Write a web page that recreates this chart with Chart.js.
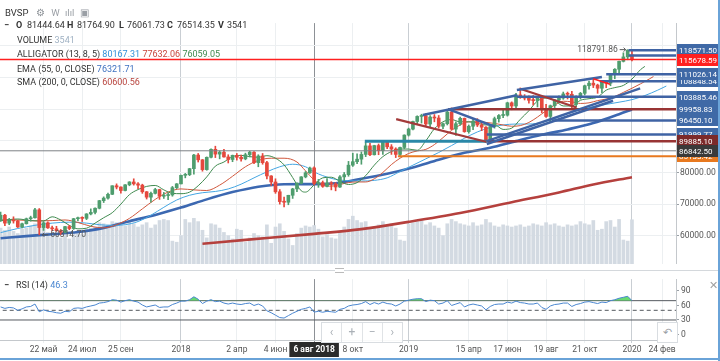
<!DOCTYPE html>
<html lang="ru"><head><meta charset="utf-8"><title>BVSP</title>
<script src="https://cdn.jsdelivr.net/npm/chart.js@4.4.1/dist/chart.umd.min.js"></script>
<style>
html,body{margin:0;padding:0;background:#fff;}
body{position:relative;width:720px;height:361px;overflow:hidden;font-family:Roboto,"Open Sans",sans-serif;color:#333;}
.cv{position:absolute;left:0;width:720px;}
#mainWrap{top:17px;height:253px;}
#rsiWrap{top:272px;height:86px;}
.t{position:absolute;white-space:nowrap;font-size:9px;line-height:11px;z-index:5;}
.t b{font-weight:700;}
#sep{position:absolute;left:0;top:270px;width:720px;height:1px;background:#d4d8dc;}
#handle{position:absolute;left:335px;top:268px;width:9px;height:3px;border-top:1px solid #bbb;border-bottom:1px solid #bbb;background:#fff;z-index:5;}
#frameR{position:absolute;left:718px;top:0;width:2px;height:361px;background:#6aa3d8;}
#frameB{position:absolute;left:0;top:358px;width:720px;height:2px;background:#6aa3d8;}
#nav{position:absolute;left:321px;top:322px;width:80px;height:19px;border:1px solid #d9dde1;background:rgba(255,255,255,.9);display:flex;z-index:6;}
#nav span{flex:1;text-align:center;font-size:12px;line-height:19px;color:#aab0b6;border-right:1px solid #e0e3e6;}
#nav span:last-child{border-right:none;}
#undo{position:absolute;left:657px;top:322px;width:19px;height:19px;border:1px solid #d9dde1;background:#fff;text-align:center;font-size:11px;line-height:19px;color:#9aa0a6;z-index:6;}
#closeX{position:absolute;left:709px;top:279px;font-size:11px;color:#a0a0a0;z-index:6;}
</style></head>
<body>
<div id="mainWrap" class="cv"><canvas id="mainChart"></canvas></div>
<div id="sep"></div><div id="handle"></div>
<div id="rsiWrap" class="cv"><canvas id="rsiChart"></canvas></div>
<div id="frameR"></div><div id="frameB"></div>

<div class="t" style="left:5px;top:7px;font-size:9.5px;">BVSP <span style="color:#8a8f95;margin-left:5px">⚙</span> <span style="color:#9a9fa5;margin-left:4px">W</span> <span style="color:#9a9fa5;margin-left:3px">ılıl</span> <span style="color:#9a9fa5;margin-left:3px">▣</span></div>
<div class="t" style="left:4px;top:20px;"><b>−</b></div>
<div class="t" style="left:16px;top:20px;"><b>O</b></div><div class="t" style="left:27px;top:20px;">81444.64</div>
<div class="t" style="left:67px;top:20px;"><b>H</b></div><div class="t" style="left:77px;top:20px;">81764.90</div>
<div class="t" style="left:119px;top:20px;"><b>L</b></div><div class="t" style="left:127px;top:20px;">76061.73</div>
<div class="t" style="left:167px;top:20px;"><b>C</b></div><div class="t" style="left:177px;top:20px;">76514.35</div>
<div class="t" style="left:218px;top:20px;"><b>V</b></div><div class="t" style="left:227px;top:20px;">3541</div>
<div class="t" style="left:17px;top:35px;">VOLUME <span style="color:#9fb1c3">3541</span></div>
<div class="t" style="left:17px;top:49px;">ALLIGATOR (13, 8, 5) <span style="color:#2f8fd8">80167.31</span> <span style="color:#c8463c">77632.06</span> <span style="color:#3f8a4f">76059.05</span></div>
<div class="t" style="left:17px;top:64px;">EMA (55, 0, CLOSE) <span style="color:#3f72c0">76321.71</span></div>
<div class="t" style="left:17px;top:77px;">SMA (200, 0, CLOSE) <span style="color:#b8443e">60600.56</span></div>
<div class="t" style="left:4px;top:280px;"><b>−</b></div>
<div class="t" style="left:16px;top:280px;">RSI (14) <span style="color:#4a86d0">46.3</span></div>
<div id="closeX">✕</div>
<div id="nav"><span>‹</span><span>+</span><span>−</span><span>›</span></div>
<div id="undo">↶</div>

<script>
// ---------------- DATA ----------------
// week index of first candle (weeks relative to the week of 1 Jan 2018)
const FIRST_WEEK = -42;
// weekly candles: [open, high, low, close, volume]
const ohlc2017 = [
[64700,67500,64500,66500,3300],[66500,66800,63200,64000,3100],[64000,65500,63500,65000,3400],[65000,66000,64000,64700,3000],
[64700,64900,62600,62800,2800],[62800,64000,62500,63800,3200],[63800,65600,63700,65400,3300],[65400,66200,64600,65700,3500],
[65700,68700,65600,68200,3700],[68200,68600,60314.70,62600,4300],[62600,64500,61700,64100,3600],[64100,64400,62300,62500,2900],
[62500,63100,61600,62200,2500],[62200,63000,61400,61600,2700],[61600,62000,60400,61100,2400],[61100,63000,60900,62900,2600],
[62900,63300,61900,62300,2300],[62300,65500,62000,65400,2900],[65400,65900,64700,65700,3000],[65700,66000,64500,65500,2700],
[65500,67000,65100,66900,3200],[66900,68500,66600,67400,3300],[67400,68800,66900,68700,3400],[68700,71200,68500,71100,3800],
[71100,72300,70500,71900,3700],[71900,73500,71600,73100,3600],[73100,75800,73000,75800,3900],[75800,76400,74800,75400,3800],
[75400,75500,73500,74300,3600],[74300,76200,74200,76100,3500],[76100,77100,75800,77000,3900],[77000,78000,76000,76400,3700],
[76400,76800,74900,76000,3400],[76000,76300,73400,73900,3600],[73900,74000,71600,72200,3800],[72200,73800,70600,73400,3300],
[73400,75000,73200,74600,3600],[74600,74700,71500,72500,4000],[72500,73700,71800,72700,4100],[72700,73500,71400,72900,4000],
[72900,75600,72500,75200,2100],[75200,76500,74900,76400,2000]
];
const ohlc2018 = [
[76400,79200,76400,79100,2600],[79100,79700,78300,79300,4100],[79300,81300,79000,81200,3800],[81200,85700,79500,85500,4200],
[85500,86000,83300,84000,3900],[84000,84100,80400,80900,3100],[80900,84900,80700,84800,2400],[84800,87500,84600,87300,3700],
[87300,88300,84700,85800,3600],[85800,86800,84300,86400,3300],[86400,87300,84800,84900,2900],[84900,85600,83000,84100,2600],
[84100,85500,83400,85400,2300],[85400,86000,83900,84800,3200],[84800,85500,83600,84300,3100],[84300,86100,84000,85600,2000],
[85600,86700,84900,86400,2400],[86400,86600,82800,83100,2800],[83100,85600,81800,85200,2600],[85200,86000,82600,83100,2500],
[83100,83500,78000,78900,3600],[78900,79000,75900,77000,1900],[77000,78000,73400,73900,3400],[73900,74600,70000,70800,3700],
[70800,72200,69100,70600,3000],[70600,72800,69800,72800,2300],[72800,75000,71800,74800,1700],[74800,76700,73900,76600,2800],
[76600,78700,76400,78600,3300],[78600,80300,78300,79900,3500],[79900,81700,79700,81400,3400],[81444.64,81764.90,76061.73,76514.35,3541],
[76500,77800,75300,76800,3200],[76800,77300,75300,75600,2500],[75600,78100,75400,76700,2700],[76700,77100,74500,76400,2400],
[76400,76800,74200,75400,2300],[75400,79000,75300,78600,3000],[78600,80000,77400,79300,3400],[79300,83500,78800,82300,4100],
[82300,86100,81900,83400,4400],[83400,85900,82800,84200,4000],[84200,86500,82600,85700,3800],[85700,89600,85000,88400,3900],
[88400,89200,85300,85600,3300],[85600,88600,85500,88500,3400],[88500,89000,85600,86900,3600],[86900,89700,85700,89500,3900],
[89500,90000,87500,88100,3500],[88100,88800,85700,87400,3700],[87400,87800,84700,85700,3300],[85700,88000,84900,87900,2200],
[87900,91900,87500,91800,2100]
];
const ohlc2019 = [
[91800,94000,91500,93700,3700],[93700,96200,93400,96100,3800],[96100,97900,95300,97700,3900],[97700,98400,95600,97900,4000],
[97900,98600,94600,95300,3600],[95300,98000,94400,97500,3800],[97500,98300,96000,97200,3500],[97200,98000,94000,94600,3300],
[94600,95600,93800,95400,2600],[95400,99300,95000,99100,3700],[99100,100400,93500,93700,4100],[93700,96000,91700,95400,3900],
[95400,97500,94900,97100,3700],[97100,97200,92700,92900,3600],[92900,95000,92400,94600,3500],[94600,96900,93500,96200,3800],
[96200,97000,94500,95000,3500],[95000,96000,93200,94300,3600],[94300,94500,89400,90000,4100],[90000,94600,89900,94500,3800],
[94500,97500,94000,97000,3500],[97000,98300,95900,98000,3400],[98000,99600,97300,98100,3600],[98100,102200,97800,102000,3500],
[102000,102300,99800,101000,3400],[101000,105000,100100,104500,3500],[104500,106700,103400,103900,3600],[103900,104600,102900,103500,3400],
[103500,104200,101900,102800,3500],[102800,104300,101300,102700,3700],[102700,104000,100700,104000,3600],[104000,104100,98900,99800,3500],
[99800,101500,97400,97700,3800],[97700,101300,95800,101100,3600],[101100,103000,100500,102900,3700],[102900,104200,102200,103500,3500],
[103500,105400,103100,104800,3400],[104800,105400,103200,104700,3600],[104700,105600,99900,101500,3500],[101500,104200,100700,103800,3600],
[103800,105300,103200,105000,3900],[105000,107600,104500,107400,3700],[107400,108900,106300,108200,3600],[108200,109700,106800,107600,4000],
[107600,107900,105000,106600,3100],[106600,109000,105200,108700,3200],[108700,109000,106800,108200,3900],[108200,111000,107400,111000,4000],
[111000,112800,109600,112600,3400],[112600,115200,111400,115100,4100],[115100,117800,114900,116500,2200],[116500,118791.86,115600,118570,2100],
[117100,118300,115200,115678.59,4070]
];
// RSI (14) per week
const rsi2017 = [57,54,56,55,50,53,57,58,63,47,51,48,47,45,44,48,47,54,55,54,57,59,61,65,66,68,72,71,67,70,72,69,67,61,57,59,61,56,57,57,62,65];
const rsi2018 = [69,69,72,78,73,64,69,72,68,69,65,63,65,63,62,64,65,60,63,59,49,45,40,35,34,39,44,48,52,54,57,46.3,48,46,48,47,46,52,54,59,61,62,64,68,62,66,63,67,64,63,59,63,69];
const rsi2019 = [71,73,74,74,68,71,70,63,65,70,60,63,66,57,61,63,61,59,51,58,62,63,63,67,65,69,66,65,63,63,65,56,52,59,62,63,65,65,58,62,64,67,68,66,64,67,66,70,72,75,77,79,70];
// indicator lines: [week, value]
const alligatorJaw = [[-42,61000],[-38,62300],[-34,63300],[-30,64000],[-26,64300],[-22,64000],[-19,63500],[-16,63300],[-13,63500],[-10,64500],[-7,66500],[-4,69000],[-1,71300],[2,72800],[5,73600],[8,74000],[11,74800],[14,76300],[17,78300],[20,80200],[23,81800],[26,82600],[29,81800],[31,80167.31],[33,79000],[36,77800],[39,77400],[42,77300],[45,77500],[48,78300],[51,80300],[54,82300],[57,84300],[60,86300],[63,88500],[66,90800],[69,92800],[72,94200],[75,95000],[78,95300],[81,95300],[84,95800],[87,97000],[90,98500],[93,99800],[96,100800],[99,101500],[102,102200],[105,103000],[108,104300],[111,106000],[113,107300]];
const alligatorTeeth = [[-42,65000],[-38,65000],[-34,64700],[-30,64800],[-27,65000],[-24,64200],[-21,63000],[-18,62500],[-15,63500],[-12,65500],[-9,68500],[-6,71500],[-3,73800],[0,74800],[3,74500],[6,74300],[9,76000],[12,78800],[15,81800],[18,83800],[21,84500],[24,84500],[27,83300],[29,80500],[31,77632.06],[33,76000],[35,75700],[37,76200],[39,76800],[41,77000],[43,77000],[45,78000],[47,80000],[49,82500],[51,84500],[53,86000],[55,86800],[57,87300],[59,88800],[61,91000],[63,93300],[65,95000],[67,96000],[69,96000],[71,95800],[73,95500],[75,95000],[77,94600],[79,94800],[81,95800],[83,97500],[85,99500],[87,101300],[89,102500],[91,102300],[93,101800],[95,102000],[97,102700],[99,103200],[101,104000],[103,105300],[105,106600],[107,108000],[109,109500],[110,110300]];
const alligatorLips = [[-42,64800],[-38,65300],[-35,64800],[-32,64700],[-30,66000],[-28,65000],[-26,63300],[-24,62200],[-22,62400],[-20,64000],[-18,65700],[-16,67300],[-14,70000],[-12,73000],[-10,74600],[-8,75600],[-6,75900],[-4,74500],[-2,73400],[0,73300],[2,73800],[4,75800],[6,78600],[8,82000],[10,83300],[12,85000],[14,85400],[16,85000],[18,84800],[20,85300],[22,84500],[24,82400],[26,78400],[28,74200],[29,73800],[31,76059.05],[33,78300],[35,78500],[37,77200],[39,76200],[41,76800],[43,79000],[45,82300],[47,85000],[49,86600],[51,87400],[53,87400],[55,87000],[57,90000],[59,93800],[61,96000],[63,96700],[65,96000],[67,96000],[69,95600],[71,95000],[73,95100],[75,93600],[77,94000],[79,96800],[81,99500],[83,102600],[85,103500],[87,102800],[89,101000],[91,101000],[93,102800],[95,103300],[97,103800],[99,106000],[101,106800],[103,107500],[105,109500],[107,112500],[108,113500]];
const ema55 = [[-42,59200],[-36,59900],[-30,60500],[-24,61200],[-18,62500],[-12,64600],[-6,66600],[0,68900],[6,71500],[12,73800],[18,75500],[24,76300],[31,76321.71],[36,76600],[42,78000],[48,79600],[54,81600],[60,84000],[66,86200],[72,87800],[78,89900],[84,91900],[90,93600],[96,95600],[102,98400],[105,99900]];
const sma200 = [[5,57500],[15,58700],[31,60600.56],[42,62100],[53,64400],[65,67200],[77,70600],[88,73700],[96,76200],[105,78500]];
// drawn objects: horizontal levels [price, fromWeek, toWeek(optional)]
const levelsBlue = [[91999.77,71.2],[96450.10,86.4],[103885.46,78.2],[108848.54,97.5],[111026.14,99],[116970,104.2],[118571.50,104.2]];
const levelsDarkRed = [[99958.83,62.2],[89885.10,71.2]];
const levelsTeal = [[89885.10,42.8,71.2]];
const levelsOrange = [[85133.42,50.5]];
const lastPrice = 115678.59;
const crossWeek = 31, crossPrice = 86842.50;
// trend lines [week1, price1, week2, price2]
const trendsBlue = [[56.3,98180,78.2,104360],[62.2,100000,73.1,94450],[78.2,106060,98,110120],[71.2,89910,106.9,106580],[71.2,89000,100.6,102640]];
const trendsDarkRed = [[50.1,96870,71.0,89690],[79.3,106270,92.1,100510]];
const trendsRed = [[96,109600,99.9,107880]];
// right-hand price tags [value, kind] (drawing order)
const priceTags = [[108848.54,'blue'],[91999.77,'blue'],[85133.42,'orange'],[118571.50,'blue'],[115678.59,'red'],[111026.14,'blue'],[103885.46,'blue'],[99958.83,'blue'],[96450.10,'blue'],[89885.10,'darkred'],[86842.50,'dark']];
const highMark = [104, 118791.86], lowMark = [-33, 60314.70];
// time axis
const tickWeeks = [-32,-23,-14,0,13,22,31,40,53,67,76,85,94,105,112];
const tickText = ['22 май','24 июл','25 сен','2018','2 апр','4 июн','6 авг 2018','8 окт','2019','15 апр','17 июн','19 авг','21 окт','2020','24 фев'];
const yearWeeks = [0,53,105];
const priceTicks = [60000,70000,80000,90000,100000,110000,120000];
const rsiTicks = [0,30,60,90];
const rsiLevels = [70,50,30];

// ---------------- VIEW ----------------
const X_MIN = -42.14, X_MAX = 115.25;
const Y_MIN = 51120, Y_MAX = 127180, VOL_MAX = 22200;
const FONT = 'Roboto, "Open Sans", sans-serif';
Chart.defaults.font.family = FONT;
Chart.defaults.font.size = 8.5;
Chart.defaults.color = '#555';

const candles = [...ohlc2017, ...ohlc2018, ...ohlc2019];
const rsiAll = [...rsi2017, ...rsi2018, ...rsi2019];
const weeks = candles.map((_, i) => FIRST_WEEK + i);
const UP = '#4f9d6e', DOWN = '#e5483d';
const cColor = candles.map(c => c[3] >= c[0] ? UP : DOWN);
const pts = arr => arr.map(([x, y]) => ({x, y}));
const line = (data, color, width, order, extra) => Object.assign({type:'line', data, borderColor:color, borderWidth:width, pointRadius:0, order, fill:false}, extra||{});
const curve = (arr, color, width, order) => line(pts(arr), color, width, order, {cubicInterpolationMode:'monotone'});
const segs = (list, color, width, order) => list.map(s => line([{x:s[0],y:s[1]},{x:s[2],y:s[3]}], color, width, order));
const levels = (list, color, width, order) => list.map(l => line([{x:l[1],y:l[0]},{x:(l[2]!==undefined?l[2]:X_MAX+1),y:l[0]}], color, width, order));

const gridColor = ({tick}) => {
  if (!tick) return '#eceff1';
  if (tick.value === crossWeek) return '#8d9196';
  return yearWeeks.includes(tick.value) ? '#c9ced3' : '#eceff1';
};
const xTicks = s => { s.ticks = tickWeeks.map(v => ({value:v})); };

const TAG = {blue:'#3f69a6', red:'#ff2020', orange:'#e8791f', darkred:'#7c2a2a', dark:'#3a3a3a'};
const tagPlugin = {
  id:'tags',
  afterDraw(chart){
    const {ctx, chartArea, scales:{x, y}} = chart;
    ctx.save();
    // high / low markers
    ctx.font = '8.5px ' + FONT; ctx.fillStyle = '#555'; ctx.strokeStyle = '#555'; ctx.lineWidth = 1; ctx.textBaseline = 'middle';
    const hx = x.getPixelForValue(highMark[0]), hy = y.getPixelForValue(highMark[1]);
    ctx.textAlign = 'right'; ctx.fillText(highMark[1].toFixed(2), hx - 10, hy);
    ctx.beginPath(); ctx.moveTo(hx - 8, hy); ctx.lineTo(hx - 2, hy); ctx.moveTo(hx - 4, hy - 2); ctx.lineTo(hx - 2, hy); ctx.lineTo(hx - 4, hy + 2); ctx.stroke();
    const lx = x.getPixelForValue(lowMark[0]), ly = y.getPixelForValue(lowMark[1]);
    ctx.textAlign = 'left'; ctx.fillText(lowMark[1].toFixed(2), lx + 11, ly);
    ctx.beginPath(); ctx.moveTo(lx + 9, ly); ctx.lineTo(lx + 3, ly); ctx.moveTo(lx + 5, ly - 2); ctx.lineTo(lx + 3, ly); ctx.lineTo(lx + 5, ly + 2); ctx.stroke();
    // price tags
    const left = chartArea.right + 1;
    ctx.font = '8px ' + FONT;
    for (const [v, kind] of priceTags) {
      const py = Math.round(y.getPixelForValue(v));
      ctx.fillStyle = TAG[kind];
      ctx.fillRect(left, py - 6, 720 - left - 2, 12);
      ctx.fillStyle = '#fff'; ctx.textAlign = 'left';
      ctx.fillText(v.toFixed(2), left + 2, py + 0.5);
    }
    ctx.restore();
  }
};

const mainDatasets = [
  {type:'bar', yAxisID:'yv', data: weeks.map((w,i)=>({x:w, y:candles[i][4]})), backgroundColor:'#d3dae2', barThickness:3, grouped:false, order:30},
  curve(sma200, '#b5403d', 2.6, 25),
  curve(ema55, '#3c68b1', 2.6, 24),
  curve(alligatorJaw, '#45a6e2', 1, 23),
  curve(alligatorTeeth, '#d0583d', 1, 22),
  curve(alligatorLips, '#3f8a4f', 1, 21),
  {type:'bar', data: weeks.map((w,i)=>({x:w, y:[candles[i][2], candles[i][1]]})), backgroundColor:cColor, barThickness:1, grouped:false, order:15},
  {type:'bar', data: weeks.map((w,i)=>({x:w, y:[candles[i][0], candles[i][3]]})), backgroundColor:cColor, barThickness:3, minBarLength:1, grouped:false, order:14},
  line([{x:X_MIN-1,y:crossPrice},{x:X_MAX+1,y:crossPrice}], '#7d8185', 1, 10),
  ...levels(levelsTeal, '#2a88a8', 3, 8),
  ...levels(levelsOrange, '#e8791f', 2, 8),
  ...levels(levelsDarkRed, '#983434', 2.5, 7),
  ...levels(levelsBlue, '#3f63a4', 2.5, 6),
  ...segs(trendsDarkRed, '#a33a3a', 2.2, 5),
  ...segs(trendsBlue, '#3f63a4', 2.5, 4),
  ...segs(trendsRed, '#ff2020', 1.5, 3),
  line([{x:X_MIN-1,y:lastPrice},{x:X_MAX+1,y:lastPrice}], '#ff2020', 1.5, 1)
];

new Chart(document.getElementById('mainChart'), {
  type:'bar',
  data:{datasets: mainDatasets},
  options:{
    responsive:true, maintainAspectRatio:false, animation:false, events:[],
    layout:{padding:0},
    plugins:{legend:{display:false}, tooltip:{enabled:false}},
    scales:{
      x:{type:'linear', min:X_MIN, max:X_MAX, offset:false, afterBuildTicks:xTicks,
         ticks:{display:false}, grid:{color:gridColor, drawTicks:false, offset:false}, border:{display:false},
         afterFit(s){ s.height = 2; }},
      y:{type:'linear', position:'right', min:Y_MIN, max:Y_MAX,
         afterBuildTicks(s){ s.ticks = priceTicks.map(v=>({value:v})); },
         ticks:{callback:v => v <= 80000 ? v.toFixed(2) : '', padding:1, color:'#555'},
         grid:{color:'#eceff1', tickLength:3, tickColor:'#9aa0a6'}, border:{display:true, color:'#c4c8cc'},
         afterFit(s){ s.width = 44; }},
      yv:{display:false, min:0, max:VOL_MAX}
    }
  },
  plugins:[tagPlugin]
});

const crossLabel = {
  id:'crossLabel',
  afterDraw(chart){
    const {ctx, chartArea, scales:{x}} = chart;
    const i = tickWeeks.indexOf(crossWeek);
    const px = x.getPixelForValue(crossWeek);
    ctx.save();
    ctx.font = 'bold 8.5px ' + FONT;
    const w = ctx.measureText(tickText[i]).width + 8;
    ctx.fillStyle = '#2b2b2b';
    ctx.fillRect(px - w/2, chartArea.bottom + 2, w, 15);
    ctx.fillStyle = '#fff'; ctx.textAlign = 'center'; ctx.textBaseline = 'middle';
    ctx.fillText(tickText[i], px, chartArea.bottom + 10);
    ctx.restore();
  }
};

new Chart(document.getElementById('rsiChart'), {
  type:'line',
  data:{datasets:[
    line(weeks.map((w,i)=>({x:w, y:rsiAll[i]})), '#4a86d0', 1, 1, {fill:{target:{value:70}, above:'rgba(88,214,96,0.9)', below:'rgba(0,0,0,0)'}}),
    ...rsiLevels.map(v => line([{x:X_MIN-1,y:v},{x:X_MAX+1,y:v}], '#555a5f', 1, 5, v === 50 ? {borderDash:[4,3]} : {}))
  ]},
  options:{
    responsive:true, maintainAspectRatio:false, animation:false, events:[],
    layout:{padding:{top:5, left:0, right:0, bottom:0}},
    plugins:{legend:{display:false}, tooltip:{enabled:false}},
    scales:{
      x:{type:'linear', min:X_MIN, max:X_MAX, offset:false, afterBuildTicks:xTicks,
         ticks:{autoSkip:false, maxRotation:0, padding:2, color:'#555',
                callback:(v) => { const i = tickWeeks.indexOf(v); return (i < 0 || v === crossWeek) ? '' : tickText[i]; }},
         grid:{color:gridColor, tickLength:3, offset:false}, border:{display:true, color:'#c4c8cc'},
         afterFit(s){ s.height = 18; }},
      y:{type:'linear', position:'right', min:-11.4, max:114.6,
         afterBuildTicks(s){ s.ticks = rsiTicks.map(v=>({value:v})); },
         ticks:{padding:2, color:'#555'},
         grid:{drawOnChartArea:false, tickLength:3, color:'#9aa0a6'}, border:{display:true, color:'#c4c8cc'},
         afterFit(s){ s.width = 44; }}
    }
  },
  plugins:[crossLabel]
});
</script>
</body></html>
